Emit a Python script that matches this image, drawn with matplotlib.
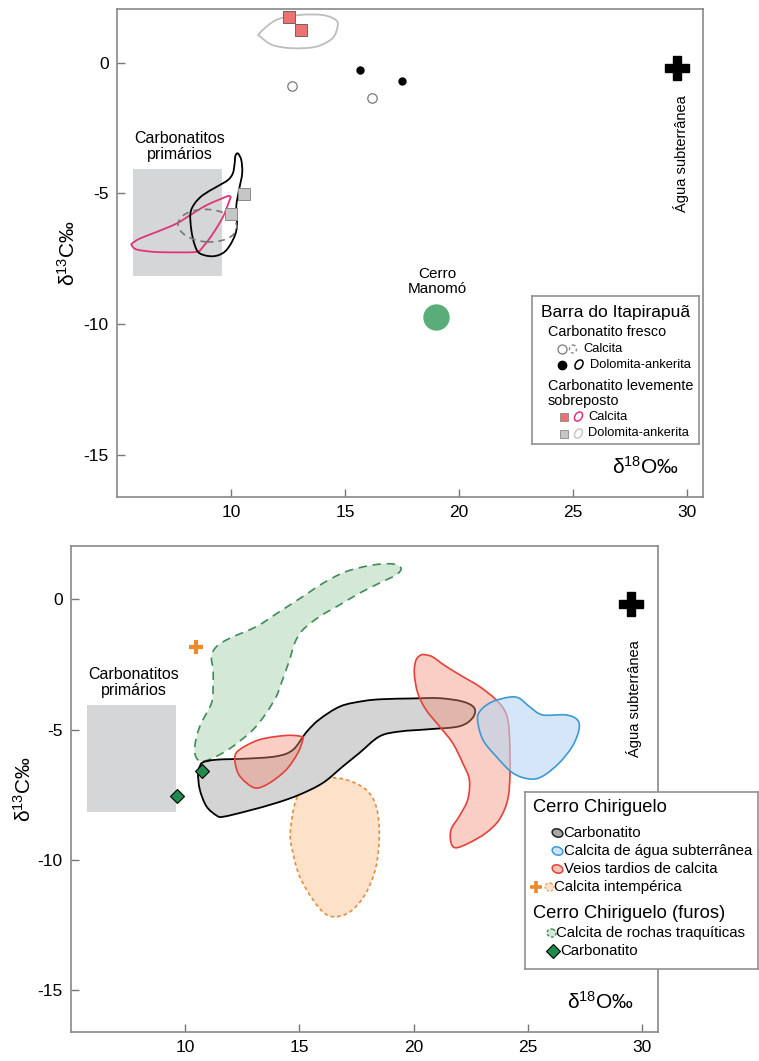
import numpy as np
import matplotlib
matplotlib.use("Agg")
import matplotlib.pyplot as plt
from matplotlib.path import Path
from matplotlib.patches import PathPatch, Ellipse, Rectangle

plt.rcParams['font.family'] = ['Liberation Sans', 'DejaVu Sans']
plt.rcParams['mathtext.default'] = 'regular'
plt.rcParams['axes.unicode_minus'] = False

# ---------------- data: Barra do Itapirapuã (upper panel) ----------------
fresh_calcite_x = [12.68, 16.18]
fresh_calcite_y = [-0.89, -1.34]
fresh_dolomite_x = [15.65, 17.51]
fresh_dolomite_y = [-0.29, -0.70]
over_calcite_x = [12.56, 13.09]
over_calcite_y = [1.74, 1.25]
over_dolomite_x = [10.56, 9.98]
over_dolomite_y = [-5.02, -5.80]

# field of fresh dolomite-ankerite
fresh_dol_field_x = [10.30, 10.45, 10.49, 10.35, 10.23, 10.26, 10.08, 9.72, 9.21, 8.63,
                     8.41, 8.26, 8.22, 8.41, 8.77, 9.36, 9.86, 10.08, 10.16, 10.19]
fresh_dol_field_y = [-3.47, -3.72, -4.23, -4.87, -5.51, -6.27, -6.78, -7.23, -7.40, -7.29,
                     -6.97, -6.40, -5.76, -5.38, -5.06, -4.75, -4.49, -4.23, -3.85, -3.57]
# field of fresh calcite (ellipse centre, width, height)
fresh_cal_field = (8.97, -6.23, 2.58, 1.24)
# field of overprinted calcite
over_cal_field_x = [5.64, 5.86, 6.59, 7.46, 8.48, 8.77, 9.21, 9.65, 9.94, 9.98, 9.86, 9.50,
                    8.92, 8.33, 7.61, 6.74, 6.01, 5.69]
over_cal_field_y = [-6.97, -7.14, -7.23, -7.25, -7.23, -7.04, -6.53, -5.89, -5.25, -5.13,
                    -5.10, -5.23, -5.45, -5.76, -6.15, -6.47, -6.72, -6.89]
# field of overprinted dolomite-ankerite
over_dol_field_x = [11.25, 11.98, 13.00, 14.02, 14.60, 14.67, 14.45, 13.73, 12.71, 11.83, 11.32]
over_dol_field_y = [1.12, 1.63, 1.82, 1.82, 1.63, 1.37, 0.93, 0.61, 0.55, 0.67, 0.97]

manomo_x, manomo_y = 19.0, -9.72
groundwater_x, groundwater_y = 29.55, -0.22

# primary carbonatite box: x range, y range
primary_x = (5.7, 9.6)
primary_y = (-8.15, -4.05)

# ---------------- data: Cerro Chiriguelo (lower panel) ----------------
carb_field_x = [14.72, 15.30, 15.88, 16.80, 17.80, 18.60, 19.96, 21.13, 22.15, 22.66, 22.58,
                22.00, 20.69, 19.38, 18.50, 17.63, 16.90, 16.03, 15.01, 13.99, 12.68, 11.66,
                11.37, 10.93, 10.64, 10.56, 10.64, 10.78, 11.37, 12.68, 13.99]
carb_field_y = [-5.77, -5.10, -4.60, -4.10, -3.90, -3.83, -3.80, -3.79, -3.92, -4.17, -4.55,
                -4.87, -4.98, -5.07, -5.26, -5.89, -6.41, -7.04, -7.49, -7.81, -8.13, -8.34,
                -8.29, -7.94, -7.30, -6.66, -6.41, -6.25, -6.15, -6.11, -6.02]
vein_small_x = [12.17, 12.39, 13.26, 14.43, 15.08, 15.15, 14.93, 14.43, 13.70, 13.12, 12.68, 12.31]
vein_small_y = [-6.08, -5.76, -5.38, -5.22, -5.26, -5.38, -5.89, -6.53, -7.04, -7.24, -7.04, -6.66]
vein_big_x = [20.33, 20.11, 20.03, 20.18, 20.54, 21.13, 21.71, 22.15, 22.44, 22.37, 22.00, 21.64,
              21.64, 21.86, 22.44, 23.17, 23.75, 24.12, 24.22, 24.19, 24.04, 23.61, 22.88, 22.15,
              21.42, 20.84, 20.54]
vein_big_y = [-2.13, -2.32, -2.83, -3.59, -4.23, -4.87, -5.51, -6.28, -6.92, -7.68, -8.32, -8.83,
              -9.34, -9.53, -9.34, -8.96, -8.45, -7.68, -6.66, -5.13, -4.36, -3.85, -3.34, -2.96,
              -2.57, -2.21, -2.13]
gw_field_x = [22.80, 22.95, 23.46, 24.19, 24.62, 25.07, 25.64, 26.66, 27.17, 27.24, 26.95, 26.37,
              25.64, 25.07, 24.34, 23.61, 23.03]
gw_field_y = [-4.62, -4.24, -3.92, -3.75, -3.79, -4.11, -4.43, -4.43, -4.62, -5.00, -5.64, -6.28,
              -6.79, -6.89, -6.66, -6.02, -5.38]
weath_field_x = [16.17, 17.05, 17.92, 18.36, 18.50, 18.36, 17.92, 17.34, 16.76, 16.17, 15.59,
                 15.01, 14.72, 14.60, 14.86, 15.45]
weath_field_y = [-6.85, -6.92, -7.30, -7.94, -8.96, -10.24, -11.26, -11.90, -12.16, -12.09,
                 -11.52, -10.63, -9.73, -8.96, -7.68, -7.04]
trach_field_x = [10.78, 11.37, 12.09, 12.97, 13.55, 13.99, 14.21, 14.57, 14.79, 15.15, 15.88,
                 16.76, 17.63, 18.49, 19.23, 19.45, 19.09, 18.21, 17.05, 16.03, 15.15, 14.13,
                 13.12, 11.95, 11.37, 11.15, 11.22, 11.22, 11.15, 10.64, 10.42, 10.49]
trach_field_y = [-6.21, -6.02, -5.64, -5.00, -4.36, -3.72, -3.21, -2.32, -1.68, -1.17, -0.66,
                 -0.21, 0.24, 0.62, 0.94, 1.20, 1.36, 1.32, 1.07, 0.62, 0.11, -0.47, -1.04,
                 -1.49, -1.81, -2.19, -2.70, -3.34, -3.98, -4.87, -5.64, -6.08]
weathered_pt_x, weathered_pt_y = [10.49], [-1.83]
drill_carb_x = [10.74, 9.65]
drill_carb_y = [-6.57, -7.54]
groundwater2_x, groundwater2_y = 29.52, -0.17

x_ticks = [10, 15, 20, 25, 30]
y_ticks = [0, -5, -10, -15]
x_lim = (5.0, 30.7)
y_lim = (-16.6, 2.05)

W, H = 759, 1061


def smooth_outline(xs, ys):
    """Closed Bezier outline passing through the given vertices."""
    P = np.column_stack([xs, ys]).astype(float)
    n = len(P)
    verts = [P[0]]
    codes = [Path.MOVETO]
    for i in range(n):
        p0, p1, p2, p3 = P[i - 1], P[i], P[(i + 1) % n], P[(i + 2) % n]
        verts += [p1 + (p2 - p0) / 6.0, p2 - (p3 - p1) / 6.0, p2]
        codes += [Path.CURVE4] * 3
    verts.append(P[0])
    codes.append(Path.CLOSEPOLY)
    return Path(verts, codes)


def field(ax, xs, ys, **kw):
    ax.add_patch(PathPatch(smooth_outline(xs, ys), **kw))


def style_axes(ax, ylabel_x):
    ax.set_xlim(*x_lim)
    ax.set_ylim(*y_lim)
    ax.set_xticks(x_ticks)
    ax.set_yticks(y_ticks)
    ax.tick_params(direction='in', length=6, width=1.0, color='#777777',
                   labelsize=12.5, pad=6)
    for s in ax.spines.values():
        s.set_color('#888888')
        s.set_linewidth(1.2)
    ax.set_ylabel('δ$^{13}$C‰', fontsize=15)
    ax.yaxis.set_label_coords(ylabel_x, 0.5)
    ax.text(0.96, 0.062, 'δ$^{18}$O‰', transform=ax.transAxes, ha='right',
            va='center', fontsize=15)
    # primary carbonatite box and label
    ax.add_patch(Rectangle((primary_x[0], primary_y[0]), primary_x[1] - primary_x[0],
                           primary_y[1] - primary_y[0], facecolor='#d5d6d8',
                           edgecolor='none', zorder=0.5))
    ax.text((primary_x[0] + primary_x[1]) / 2 + 0.1, -3.2, 'Carbonatitos\nprimários',
            ha='center', va='center', fontsize=11.5, linespacing=1.1)


def legend_axes(fig, x0, y0, x1, y1):
    lax = fig.add_axes([x0 / W, 1 - y1 / H, (x1 - x0) / W, (y1 - y0) / H])
    lax.set_xlim(x0, x1)
    lax.set_ylim(y1, y0)
    lax.set_xticks([])
    lax.set_yticks([])
    for s in lax.spines.values():
        s.set_color('#888888')
        s.set_linewidth(1.1)
    lax.set_zorder(10)
    return lax


fig = plt.figure(figsize=(W / 100, H / 100), dpi=100)

# ======================= upper panel =======================
ax1 = fig.add_axes([117 / W, 1 - 497 / H, 586 / W, 488 / H])
style_axes(ax1, -0.066)

field(ax1, over_dol_field_x, over_dol_field_y, facecolor='none', edgecolor='#bdbdbd',
      lw=1.3, zorder=2)
field(ax1, over_cal_field_x, over_cal_field_y, facecolor='none', edgecolor='#e0337a',
      lw=1.3, zorder=2)
field(ax1, fresh_dol_field_x, fresh_dol_field_y, facecolor='none', edgecolor='black',
      lw=1.3, zorder=2)
cx, cy, ew, eh = fresh_cal_field
ax1.add_patch(Ellipse((cx, cy), ew, eh, angle=-3, facecolor='none', edgecolor='#777777',
                      lw=1.2, ls=(0, (4, 3)), zorder=2))

ax1.plot(over_calcite_x, over_calcite_y, 's', ms=8.4, mfc='#ef7272', mec='#666666',
         mew=0.7, zorder=5)
ax1.plot(over_dolomite_x, over_dolomite_y, 's', ms=9, mfc='#c6c6c6', mec='#8a8a8a',
         mew=0.7, zorder=5)
ax1.plot(fresh_calcite_x, fresh_calcite_y, 'o', ms=6.8, mfc='white', mec='#7a7a7a',
         mew=0.9, zorder=5)
ax1.plot(fresh_dolomite_x, fresh_dolomite_y, 'o', ms=5, mfc='black', mec='black', zorder=5)
ax1.plot([manomo_x], [manomo_y], 'o', ms=19, mfc='#5aad78', mec='none', zorder=5)
ax1.text(manomo_x + 0.05, -8.38, 'Cerro\nManomó', ha='center', va='center', fontsize=11,
         linespacing=1.1)
ax1.plot([groundwater_x], [groundwater_y], 'P', ms=17, mfc='black', mec='black', zorder=5)
ax1.text(groundwater_x + 0.2, -3.47, 'Água subterrânea', rotation=90, ha='center',
         va='center', fontsize=10.5)

# legend of the upper panel
lg1 = legend_axes(fig, 532, 296, 699, 444)
lg1.text(541, 312, 'Barra do Itapirapuã', fontsize=12.5, va='center', ha='left')
lg1.text(548, 331.5, 'Carbonatito fresco', fontsize=10.4, va='center', ha='left')
lg1.plot([562], [349], 'o', ms=6.5, mfc='white', mec='#7a7a7a', mew=0.9)
lg1.add_patch(Ellipse((573, 349), 7, 8, facecolor='none', edgecolor='#888888', lw=1,
                      ls=(0, (2, 2))))
lg1.text(583, 349, 'Calcita', fontsize=9.3, va='center', ha='left')
lg1.plot([562], [364.5], 'o', ms=6, mfc='black', mec='black')
lg1.add_patch(Ellipse((579, 364.5), 7, 10, angle=35, facecolor='none', edgecolor='black',
                      lw=1.1))
lg1.text(590, 364.5, 'Dolomita-ankerita', fontsize=9.3, va='center', ha='left')
lg1.text(548, 385.5, 'Carbonatito levemente', fontsize=10.4, va='center', ha='left')
lg1.text(548, 401, 'sobreposto', fontsize=10.4, va='center', ha='left')
lg1.plot([564], [416.5], 's', ms=6.3, mfc='#ef7272', mec='#888888', mew=0.6)
lg1.add_patch(Ellipse((578.5, 416.5), 7, 10, angle=35, facecolor='none', edgecolor='#e0337a',
                      lw=1.1))
lg1.text(588, 416.5, 'Calcita', fontsize=9.3, va='center', ha='left')
lg1.plot([564], [433.5], 's', ms=6.3, mfc='#c6c6c6', mec='#888888', mew=0.6)
lg1.add_patch(Ellipse((578.5, 433.5), 7, 10, angle=35, facecolor='none', edgecolor='#c4c4c4',
                      lw=1.0))
lg1.text(588, 433.5, 'Dolomita-ankerita', fontsize=9.3, va='center', ha='left')

# ======================= lower panel =======================
ax2 = fig.add_axes([71 / W, 1 - 1032 / H, 587 / W, 486 / H])
style_axes(ax2, -0.061)

field(ax2, trach_field_x, trach_field_y, facecolor='#d3e8d6', edgecolor='#3f8c58', lw=1.2,
      ls=(0, (5, 3.5)), zorder=1)
field(ax2, weath_field_x, weath_field_y, facecolor='#fde1c8', edgecolor='#e58d3e', lw=1.2,
      ls=(0, (2.2, 1.8)), zorder=1)
field(ax2, carb_field_x, carb_field_y, facecolor='#d4d4d4', edgecolor='black', lw=1.3,
      zorder=2)
field(ax2, vein_small_x, vein_small_y, facecolor=(0.95, 0.55, 0.45, 0.42),
      edgecolor='#e5403a', lw=1.2, zorder=3)
field(ax2, vein_big_x, vein_big_y, facecolor=(0.95, 0.55, 0.45, 0.42),
      edgecolor='#e5403a', lw=1.2, zorder=3)
field(ax2, gw_field_x, gw_field_y, facecolor=(0.72, 0.84, 0.95, 0.6),
      edgecolor='#3a9ad6', lw=1.2, zorder=4)

ax2.plot(weathered_pt_x, weathered_pt_y, '+', ms=10, mew=3, color='#ef8a2c', zorder=5)
ax2.plot(drill_carb_x, drill_carb_y, 'D', ms=7.2, mfc='#1f8b4c', mec='black', mew=0.8,
         zorder=6)
ax2.plot([groundwater2_x], [groundwater2_y], 'P', ms=17, mfc='black', mec='black', zorder=5)
ax2.text(groundwater2_x + 0.12, -3.8, 'Água subterrânea', rotation=90, ha='center',
         va='center', fontsize=10.5)

# legend of the lower panel
lg2 = legend_axes(fig, 525, 792, 758, 969)
lg2.text(533, 807, 'Cerro Chiriguelo', fontsize=13.2, va='center', ha='left')
fill_icons = [('Carbonatito', '#a8a8a8', '#222222', 833),
              ('Calcita de água subterrânea', '#d0e3f5', '#3a9ad6', 851),
              ('Veios tardios de calcita', '#f6c2b5', '#e5403a', 869)]
for label, fc, ec, yy in fill_icons:
    lg2.add_patch(Ellipse((557.5, yy), 11, 8, angle=20, facecolor=fc, edgecolor=ec, lw=1.1))
    lg2.text(563.5, yy, label, fontsize=10.8, va='center', ha='left')
lg2.plot([536], [887], '+', ms=9, mew=2.6, color='#ef8a2c')
lg2.add_patch(Ellipse((549.5, 887), 9, 8, angle=20, facecolor='#fde1c8', edgecolor='#e8a060',
                      lw=1.0, ls=(0, (1.6, 1.4))))
lg2.text(554.5, 887, 'Calcita intempérica', fontsize=10.8, va='center', ha='left')
lg2.text(533, 913, 'Cerro Chiriguelo (furos)', fontsize=13.2, va='center', ha='left')
lg2.add_patch(Ellipse((551.5, 933), 9, 8, angle=20, facecolor='#d3e8d6', edgecolor='#3f8c58',
                      lw=1.0, ls=(0, (2, 1.5))))
lg2.text(556.5, 933, 'Calcita de rochas traquíticas', fontsize=10.8, va='center', ha='left')
lg2.plot([553], [951], 'D', ms=7, mfc='#1f8b4c', mec='black', mew=0.8)
lg2.text(560, 951, 'Carbonatito', fontsize=10.8, va='center', ha='left')

fig.savefig('out.png', dpi=100)
